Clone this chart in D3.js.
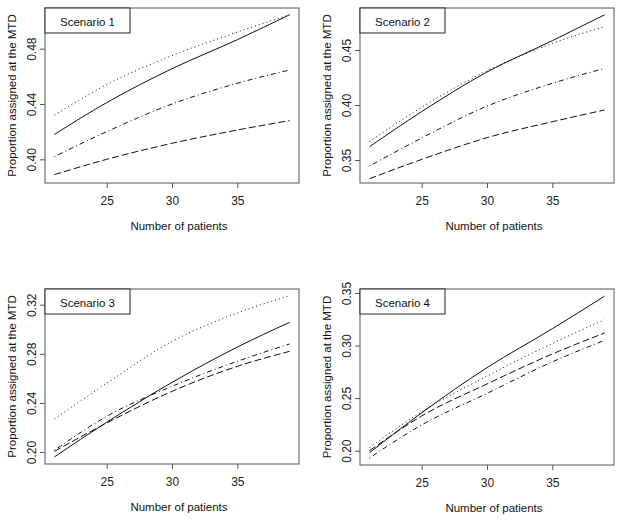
<!DOCTYPE html>
<html>
<head>
<meta charset="utf-8">
<script src="https://cdn.jsdelivr.net/npm/d3@7"></script>
<style>
  html, body { margin: 0; padding: 0; background: #fff; }
  svg { display: block; font-family: "Liberation Sans", Arial, Helvetica, sans-serif; }
</style>
</head>
<body>
<svg id="chart" width="622" height="521"></svg>
<script>
// ---- data ----
const nPatients = [21, 25, 30, 35, 39];
const scenarioNames = ["Scenario 1", "Scenario 2", "Scenario 3", "Scenario 4"];
const xTicks = [25, 30, 35];

const sc1Solid   = [0.418, 0.441, 0.4655, 0.4865, 0.5045];
const sc1Dotted  = [0.432, 0.454, 0.475, 0.492, 0.5045];
const sc1DotDash = [0.402, 0.420, 0.440, 0.455, 0.4646];
const sc1Dashed  = [0.389, 0.400, 0.4116, 0.4212, 0.428];
const sc1Ticks   = [0.40, 0.44, 0.48];

const sc2Solid   = [0.362, 0.394, 0.430, 0.4585, 0.482];
const sc2Dotted  = [0.3667, 0.398, 0.431, 0.456, 0.4712];
const sc2DotDash = [0.3445, 0.370, 0.399, 0.4197, 0.4333];
const sc2Dashed  = [0.333, 0.3505, 0.3703, 0.3848, 0.3955];
const sc2Ticks   = [0.35, 0.40, 0.45];

const sc3Solid   = [0.196, 0.2242, 0.2567, 0.2855, 0.3056];
const sc3Dotted  = [0.2269, 0.256, 0.290, 0.3132, 0.3273];
const sc3DotDash = [0.2014, 0.229, 0.2535, 0.2739, 0.288];
const sc3Dashed  = [0.2005, 0.2236, 0.2494, 0.2698, 0.282];
const sc3Ticks   = [0.20, 0.24, 0.28, 0.32];

const sc4Solid   = [0.198, 0.236, 0.279, 0.316, 0.347];
const sc4Dotted  = [0.203, 0.237, 0.271, 0.302, 0.3246];
const sc4DotDash = [0.193, 0.2245, 0.2545, 0.2845, 0.305];
const sc4Dashed  = [0.200, 0.233, 0.2635, 0.292, 0.312];
const sc4Ticks   = [0.20, 0.25, 0.30, 0.35];

// ---- layout ----
const panels = [
  { name: scenarioNames[0], series: [sc1Solid, sc1Dotted, sc1DotDash, sc1Dashed], ticks: sc1Ticks,
    left: 45, right: 299, top: 8, bottom: 183, yDom: [0.3829, 0.5094], legendW: 85 },
  { name: scenarioNames[1], series: [sc2Solid, sc2Dotted, sc2DotDash, sc2Dashed], ticks: sc2Ticks,
    left: 360, right: 614, top: 8, bottom: 183, yDom: [0.3291, 0.4882], legendW: 85 },
  { name: scenarioNames[2], series: [sc3Solid, sc3Dotted, sc3DotDash, sc3Dashed], ticks: sc3Ticks,
    left: 45, right: 299, top: 289, bottom: 464, yDom: [0.1902, 0.3328], legendW: 85 },
  { name: scenarioNames[3], series: [sc4Solid, sc4Dotted, sc4DotDash, sc4Dashed], ticks: sc4Ticks,
    left: 360, right: 614, top: 289, bottom: 465, yDom: [0.1864, 0.3538], legendW: 85 }
];
const dashes = [null, "1,3", "1,3,5,3", "7,3"];
const xDom = [20.28, 39.72];
const fmt = d3.format(".2f");

const svg = d3.select("#chart");
svg.append("rect").attr("width", 622).attr("height", 521).attr("fill", "#fff");

panels.forEach((p) => {
  const x = d3.scaleLinear().domain(xDom).range([p.left, p.right]);
  const y = d3.scaleLinear().domain(p.yDom).range([p.bottom, p.top]);
  const g = svg.append("g");

  // lines
  const line = d3.line().x((d, i) => x(nPatients[i])).y(d => y(d)).curve(d3.curveMonotoneX);
  p.series.forEach((s, si) => {
    g.append("path").datum(s).attr("d", line)
      .attr("fill", "none").attr("stroke", "#111").attr("stroke-width", 1)
      .attr("stroke-dasharray", dashes[si]);
  });

  // x axis
  const xa = g.append("g").attr("transform", `translate(0,${p.bottom})`)
    .call(d3.axisBottom(x).tickValues(xTicks).tickSize(5).tickPadding(8).tickFormat(d3.format("d")));
  xa.select(".domain").remove();
  xa.selectAll("line").attr("stroke", "#555");
  xa.selectAll("text").attr("font-size", "12px").attr("fill", "#222")
    .attr("font-family", "'Liberation Sans', Arial, sans-serif");

  // y axis
  const ya = g.append("g").attr("transform", `translate(${p.left},0)`)
    .call(d3.axisLeft(y).tickValues(p.ticks).tickSize(5).tickFormat(fmt));
  ya.select(".domain").remove();
  ya.selectAll("line").attr("stroke", "#555");
  ya.selectAll("text")
    .attr("font-size", "12px").attr("fill", "#222")
    .attr("font-family", "'Liberation Sans', Arial, sans-serif")
    .attr("text-anchor", "middle")
    .attr("dy", null).attr("x", null)
    .attr("transform", "translate(-9,0) rotate(-90)")
    .attr("y", 0);

  // box
  g.append("rect").attr("x", p.left).attr("y", p.top)
    .attr("width", p.right - p.left).attr("height", p.bottom - p.top)
    .attr("fill", "none").attr("stroke", "#555").attr("stroke-width", 1);

  // legend box
  g.append("rect").attr("x", p.left).attr("y", p.top)
    .attr("width", p.legendW).attr("height", 25)
    .attr("fill", "#fff").attr("stroke", "#222").attr("stroke-width", 1);
  g.append("text").attr("x", p.left + 15).attr("y", p.top + 17.5)
    .attr("font-size", "11.5px").attr("fill", "#111").text(p.name);

  // axis titles
  g.append("text").attr("x", (p.left + p.right) / 2 + 7).attr("y", p.bottom + 47)
    .attr("text-anchor", "middle").attr("font-size", "11.5px").attr("fill", "#111")
    .text("Number of patients");
  g.append("text")
    .attr("transform", `translate(${p.left - 29},${(p.top + p.bottom) / 2}) rotate(-90)`)
    .attr("text-anchor", "middle").attr("font-size", "11.5px").attr("fill", "#111")
    .text("Proportion assigned at the MTD");
});
</script>
</body>
</html>
